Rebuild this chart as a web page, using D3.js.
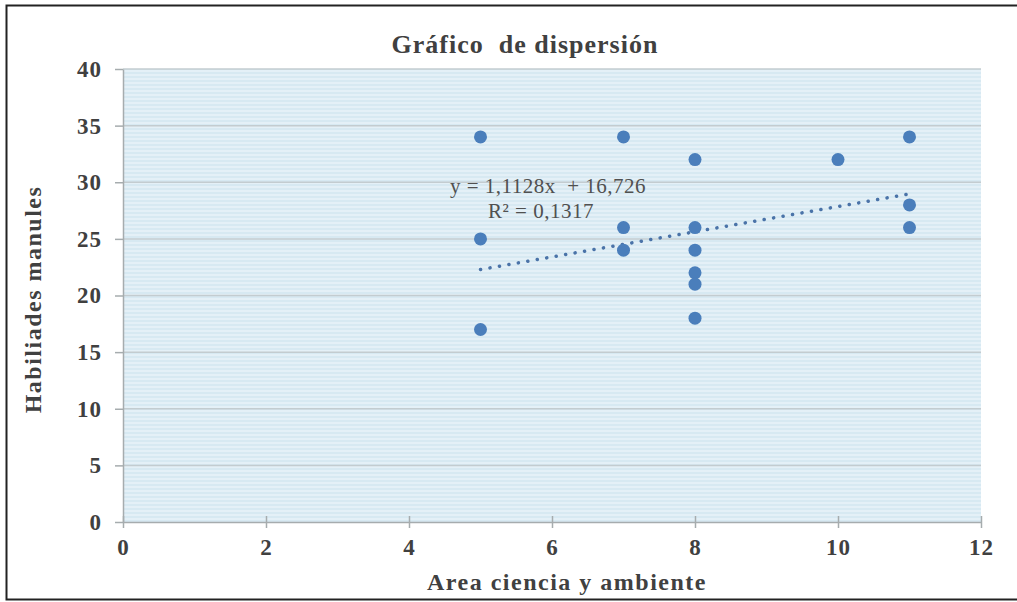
<!DOCTYPE html>
<html>
<head>
<meta charset="utf-8">
<script src="https://cdn.jsdelivr.net/npm/d3@7"></script>
<style>
  body { margin: 0; background: #fff; }
  text { font-family: "Liberation Serif", "DejaVu Serif", serif; white-space: pre; }
</style>
</head>
<body>
<svg width="1017" height="602"></svg>
<script>
let width = 1017,
    height = 602;

let xValues = [5, 5, 5, 7, 7, 7, 8, 8, 8, 8, 8, 8, 10, 11, 11, 11];
let yValues = [34, 25, 17, 34, 26, 24, 32, 26, 24, 22, 21, 18, 32, 34, 28, 26];
let xTicks = [0, 2, 4, 6, 8, 10, 12];
let yTicks = [0, 5, 10, 15, 20, 25, 30, 35, 40];
let slope = 1.1128,
    intercept = 16.726;
let trendRange = [5, 11];

let margin = {left: 123, right: 36, top: 69, bottom: 80};

let x = d3.scaleLinear().domain([0, 12]).range([margin.left, width - margin.right]);
let y = d3.scaleLinear().domain([0, 40]).range([height - margin.bottom, margin.top]);

let svg = d3.select("svg");

// stripes
let defs = svg.append("defs");
let pat = defs.append("pattern")
    .attr("id", "stripes")
    .attr("patternUnits", "userSpaceOnUse")
    .attr("width", 8).attr("height", 4);
pat.append("rect").attr("width", 8).attr("height", 4).attr("fill", "#d7e9f2");
pat.append("rect").attr("y", 2).attr("width", 8).attr("height", 2).attr("fill", "#e4f0f7");

// outer frame
svg.append("rect")
    .attr("x", 6.5).attr("y", 5.5)
    .attr("width", width + 10).attr("height", 594)
    .attr("fill", "#fff")
    .attr("stroke", "#222")
    .attr("stroke-width", 2);

svg.append("rect")
    .attr("x", x(0)).attr("y", y(40))
    .attr("width", x(12) - x(0)).attr("height", y(0) - y(40))
    .attr("fill", "url(#stripes)");

// gridlines
svg.append("g")
    .selectAll("line")
    .data(yTicks.filter(d => d > 0))
    .enter().append("line")
    .attr("x1", x(0)).attr("x2", x(12))
    .attr("y1", d => y(d)).attr("y2", d => y(d))
    .attr("stroke", "#c3ccd0")
    .attr("stroke-width", 1.5);

// axes
let xAxis = svg.append("g")
    .attr("transform", `translate(0,${y(0)})`)
    .call(d3.axisBottom(x).tickValues(xTicks).tickSize(6).tickSizeOuter(0).tickPadding(11));
let yAxis = svg.append("g")
    .attr("transform", `translate(${x(0)},0)`)
    .call(d3.axisLeft(y).tickValues(yTicks).tickSize(8).tickSizeOuter(0).tickPadding(13));

[xAxis, yAxis].forEach(a => {
    a.select(".domain").attr("stroke", "#a6acae").attr("stroke-width", 1.5);
    a.selectAll(".tick line").attr("stroke", "#a6acae").attr("stroke-width", 1.5);
    a.selectAll(".tick text")
        .attr("fill", "#404040")
        .attr("font-size", 23)
        .attr("font-weight", "bold")
        .attr("letter-spacing", 1)
        .style("font-family", "'Liberation Serif', serif");
});
xAxis.selectAll(".tick line").attr("y1", -6).attr("y2", 6);

// trend line
svg.append("line")
    .attr("x1", x(trendRange[0])).attr("y1", y(slope * trendRange[0] + intercept))
    .attr("x2", x(trendRange[1])).attr("y2", y(slope * trendRange[1] + intercept))
    .attr("stroke", "#4a73a8")
    .attr("stroke-width", 3.5)
    .attr("stroke-linecap", "round")
    .attr("stroke-dasharray", "0.1,9.5");

// points
svg.append("g")
    .selectAll("circle")
    .data(xValues.map((d, i) => ({x: d, y: yValues[i]})))
    .enter().append("circle")
    .attr("cx", d => x(d.x))
    .attr("cy", d => y(d.y))
    .attr("r", 6.5)
    .attr("fill", "#4a7ebb");

// equation labels
svg.append("text")
    .attr("x", 548).attr("y", 193)
    .attr("text-anchor", "middle")
    .attr("font-size", 21)
    .attr("letter-spacing", 0.5)
    .attr("fill", "#505050")
    .text("y = 1,1128x  + 16,726");
svg.append("text")
    .attr("x", 541).attr("y", 218)
    .attr("text-anchor", "middle")
    .attr("font-size", 21)
    .attr("letter-spacing", 0.5)
    .attr("fill", "#505050")
    .text("R² = 0,1317");

// title
svg.append("text")
    .attr("x", 525).attr("y", 53)
    .attr("text-anchor", "middle")
    .attr("font-size", 26)
    .attr("font-weight", "bold")
    .attr("letter-spacing", 1)
    .attr("fill", "#404040")
    .text("Gráfico  de dispersión");

// axis titles
svg.append("text")
    .attr("x", 567).attr("y", 590)
    .attr("text-anchor", "middle")
    .attr("font-size", 24)
    .attr("font-weight", "bold")
    .attr("letter-spacing", 1.5)
    .attr("fill", "#404040")
    .text("Area ciencia y ambiente");

svg.append("text")
    .attr("transform", `translate(41,${(y(0) + y(40)) / 2 + 4}) rotate(-90)`)
    .attr("text-anchor", "middle")
    .attr("font-size", 24)
    .attr("font-weight", "bold")
    .attr("letter-spacing", 1.5)
    .attr("fill", "#404040")
    .text("Habiliades manules");
</script>
</body>
</html>
